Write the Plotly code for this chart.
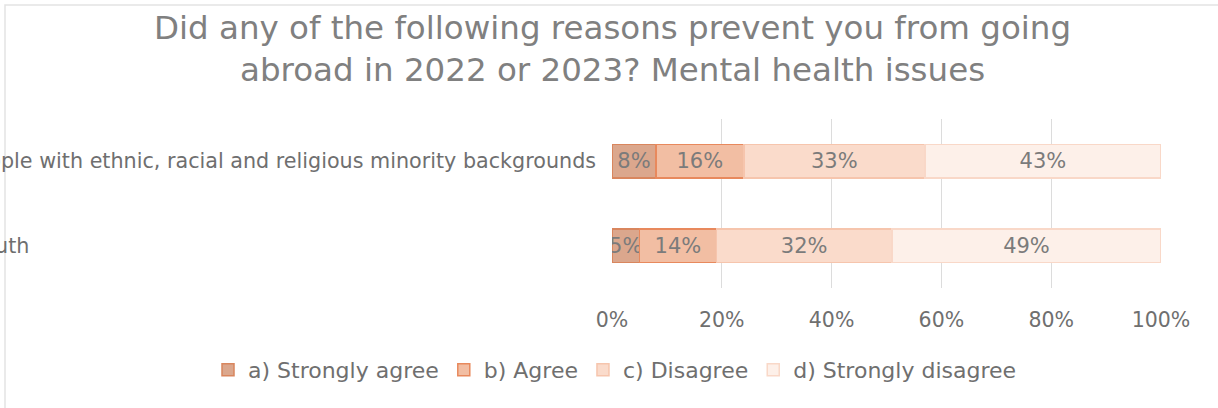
import plotly.graph_objects as go

categories = ["All youth",
              "Young people with ethnic, racial and religious minority backgrounds"]
series_names = ["a) Strongly agree", "b) Agree", "c) Disagree", "d) Strongly disagree"]
values = {
    "a) Strongly agree": [5, 8],
    "b) Agree": [14, 16],
    "c) Disagree": [32, 33],
    "d) Strongly disagree": [49, 43],
}
fill_colors = ["#DBA78D", "#F2BEA3", "#FADBCB", "#FDF0E9"]
line_colors = ["#D9865E", "#E8895D", "#F6C5AD", "#F9D8C8"]
x_ticks = [0, 20, 40, 60, 80, 100]
x_tick_labels = [f"{v}%" for v in x_ticks]
title_text = ("Did any of the following reasons prevent you from going<br>"
              "abroad in 2022 or 2023? Mental health issues")

FONT = "DejaVu Sans, Liberation Sans, Arial"
GREY = "#7b7b7b"

W, H = 1218, 408
ml, mr, mt, mb = 612, 57, 119, 120
pw = W - ml - mr
ph = H - mt - mb

fig = go.Figure()
for name, fc, lc in zip(series_names, fill_colors, line_colors):
    vals = values[name]
    fig.add_trace(go.Bar(
        y=categories, x=vals, name=name, orientation="h",
        text=[f"{v}%" for v in vals], texttemplate="%{text}",
        marker=dict(color=fc, line=dict(color=lc, width=1.5)),
        textposition="inside", insidetextanchor="middle",
        constraintext="none", textangle=0,
        textfont=dict(family=FONT, size=21, color=GREY),
        hoverinfo="skip",
    ))

# category labels (clipped on the left as in the original)
label_right_px = [31, 598]
for cat, xr in zip(categories, label_right_px):
    fig.add_annotation(
        x=(xr - ml) / pw, xref="paper", y=cat, yref="y",
        text=cat, showarrow=False, xanchor="right", yanchor="middle",
        font=dict(family=FONT, size=20.7, color="#6f6f6f"),
    )

# title
fig.add_annotation(
    x=0, xref="paper", xanchor="center",
    y=(mt + ph - 7) / ph, yref="paper", yanchor="top",
    text=title_text, showarrow=False, align="center",
    font=dict(family=FONT, size=32.5, color="#808080"),
)

# light chart frame
fig.add_shape(type="rect", xref="paper", yref="paper",
              x0=(5 - ml) / pw, x1=(W + 20 - ml) / pw,
              y0=-(H + 20 - mt - ph) / ph, y1=(mt + ph - 5) / ph,
              line=dict(color="#e3e3e3", width=1.5), fillcolor="rgba(0,0,0,0)", layer="below")

fig.update_layout(
    width=W, height=H, barmode="stack", bargap=0.6,
    margin=dict(l=ml, r=mr, t=mt, b=mb, autoexpand=False),
    paper_bgcolor="white", plot_bgcolor="white",
    xaxis=dict(range=[0, 100], tickvals=x_ticks, ticktext=x_tick_labels,
               showgrid=True, gridcolor="#dcdcdc", gridwidth=1, zeroline=False,
               ticks="outside", ticklen=13, tickcolor="rgba(0,0,0,0)",
               tickfont=dict(family=FONT, size=20.5, color="#6f6f6f"),
               fixedrange=True),
    yaxis=dict(showticklabels=False, showgrid=False, zeroline=False,
               categoryorder="array", categoryarray=categories, fixedrange=True),
    showlegend=True,
    legend=dict(orientation="h", xref="paper", x=(208 - ml) / pw, xanchor="left",
                yref="paper", y=(mt + ph - 370) / ph, yanchor="middle",
                font=dict(family=FONT, size=22, color="#6f6f6f"),
                traceorder="normal", itemclick=False, itemdoubleclick=False),
    font=dict(family=FONT),
)

fig.write_html("out.html", config={"displayModeBar": False},
               post_script="document.body.style.margin='0';")
